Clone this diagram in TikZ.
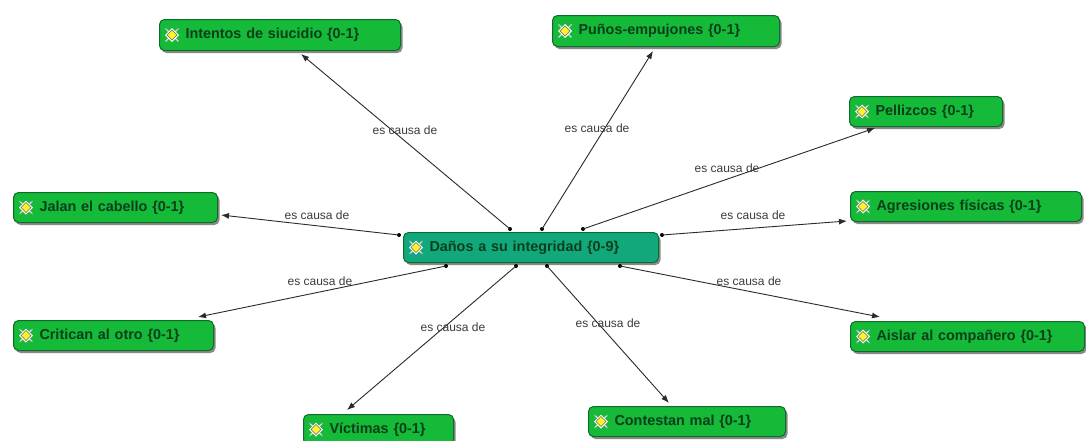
\documentclass[tikz,border=0pt]{standalone}
\usepackage{fontspec}
\setmainfont{Liberation Sans}
\usetikzlibrary{shadows,arrows.meta}
\definecolor{boxgreen}{HTML}{14BA38}
\definecolor{boxteal}{HTML}{11A97C}
\definecolor{boxedge}{HTML}{0E6B2A}
\definecolor{boxtext}{HTML}{0B3F1C}
\definecolor{linkc}{HTML}{2A2A2A}
\definecolor{labelc}{HTML}{3C3C3C}
\tikzset{
  conceptbox/.style={draw=boxedge,line width=1pt,rounded corners=5pt,inner sep=0pt,anchor=north west,
    font=\fontsize{14.4}{16}\selectfont\bfseries,text=boxtext,align=left,
    general shadow={fill=black!65,shadow xshift=2pt,shadow yshift=-2.5pt,opacity=.7}},
  greenbox/.style={conceptbox,fill=boxgreen},
  tealbox/.style={conceptbox,fill=boxteal},
  linkline/.style={draw=linkc,line width=.9pt,-{Latex[length=8pt,width=6pt]}},
  dotmark/.style={circle,fill=black,inner sep=0pt,minimum size=4pt},
  linklabel/.style={font=\fontsize{12}{14}\selectfont,text=labelc,inner sep=0pt},
  pics/quoteicon/.style={code={
    \draw[white!70!gray,line width=1.3pt] (-6.5,-6.5)--(6.5,6.5) (-6.5,6.5)--(6.5,-6.5);
    \draw[gray!70,line width=.4pt] (-7,-6)--(-5,-6) (7,6)--(5,6) (-7,6)--(-5,6) (7,-6)--(5,-6);
    \fill[white] (-7,0)--(0,7)--(7,0)--(0,-7)--cycle;
    \draw[gray!80!black,line width=.5pt,fill=yellow!85!white] (-5,0)--(0,5)--(5,0)--(0,-5)--cycle;
  }}
}
% name, x, y (top, in pixels from the top), width, height, style, text
\newcommand{\conceptnode}[7]{%
  \node[#6,minimum width=#4pt,minimum height=#5pt,text width=#4pt] (#1) at (#2,-#3) {\hspace*{26pt}#7};
  \pic at ($(#1.west)+(13,0)$) {quoteicon};
}
\usetikzlibrary{calc}
\begin{document}
\begin{tikzpicture}[x=1pt,y=1pt]
\useasboundingbox (0,0) rectangle (1086,-440);
\fill[white] (0,0) rectangle (1086,-440);
\begin{scope}
\clip (0,0) rectangle (1086,-440);
\conceptnode{main}{403}{232}{255}{30}{tealbox}{Daños a su integridad \{0-9\}}
\conceptnode{intentos}{159}{19}{241}{31}{greenbox}{Intentos de siucidio \{0-1\}}
\conceptnode{punos}{552}{15}{227}{31}{greenbox}{Puños-empujones \{0-1\}}
\conceptnode{pellizcos}{849}{96}{153}{30}{greenbox}{Pellizcos \{0-1\}}
\conceptnode{agresiones}{850}{191}{231}{30}{greenbox}{Agresiones físicas \{0-1\}}
\conceptnode{aislar}{850}{321}{234}{30}{greenbox}{Aislar al compañero \{0-1\}}
\conceptnode{contestan}{588}{406}{197}{30}{greenbox}{Contestan mal \{0-1\}}
\conceptnode{victimas}{303}{414}{150}{30}{greenbox}{Víctimas \{0-1\}}
\conceptnode{critican}{13}{320}{200}{30}{greenbox}{Critican al otro \{0-1\}}
\conceptnode{jalan}{13}{192}{204}{30}{greenbox}{Jalan el cabello \{0-1\}}
\end{scope}
% start dots on the central concept
\node[dotmark] (d1) at (510,-229) {};
\node[dotmark] (d2) at (542,-229) {};
\node[dotmark] (d3) at (583,-229) {};
\node[dotmark] (d4) at (662,-235) {};
\node[dotmark] (d5) at (620,-266) {};
\node[dotmark] (d6) at (547,-266) {};
\node[dotmark] (d7) at (516,-266) {};
\node[dotmark] (d8) at (446,-266) {};
\node[dotmark] (d9) at (399,-235) {};
% arrow ends just outside the target concepts
\coordinate (t1) at (301,-54);
\coordinate (t2) at (653,-51);
\coordinate (t3) at (875,-128);
\coordinate (t4) at (847,-221);
\coordinate (t5) at (880,-317);
\coordinate (t6) at (669,-403);
\coordinate (t7) at (347,-410);
\coordinate (t8) at (198,-317);
\coordinate (t9) at (221,-215);
\foreach \i in {1,...,9} {\draw[linkline] (d\i.center) -- (t\i);}
\node[linklabel] (l1) at (405,-130) {es causa de};
\node[linklabel] (l2) at (597,-128) {es causa de};
\node[linklabel] (l3) at (727,-168) {es causa de};
\node[linklabel] (l4) at (753,-215) {es causa de};
\node[linklabel] (l5) at (749,-281) {es causa de};
\node[linklabel] (l6) at (608,-323) {es causa de};
\node[linklabel] (l7) at (453,-327) {es causa de};
\node[linklabel] (l8) at (320,-281) {es causa de};
\node[linklabel] (l9) at (317,-215) {es causa de};
\end{tikzpicture}
\end{document}
